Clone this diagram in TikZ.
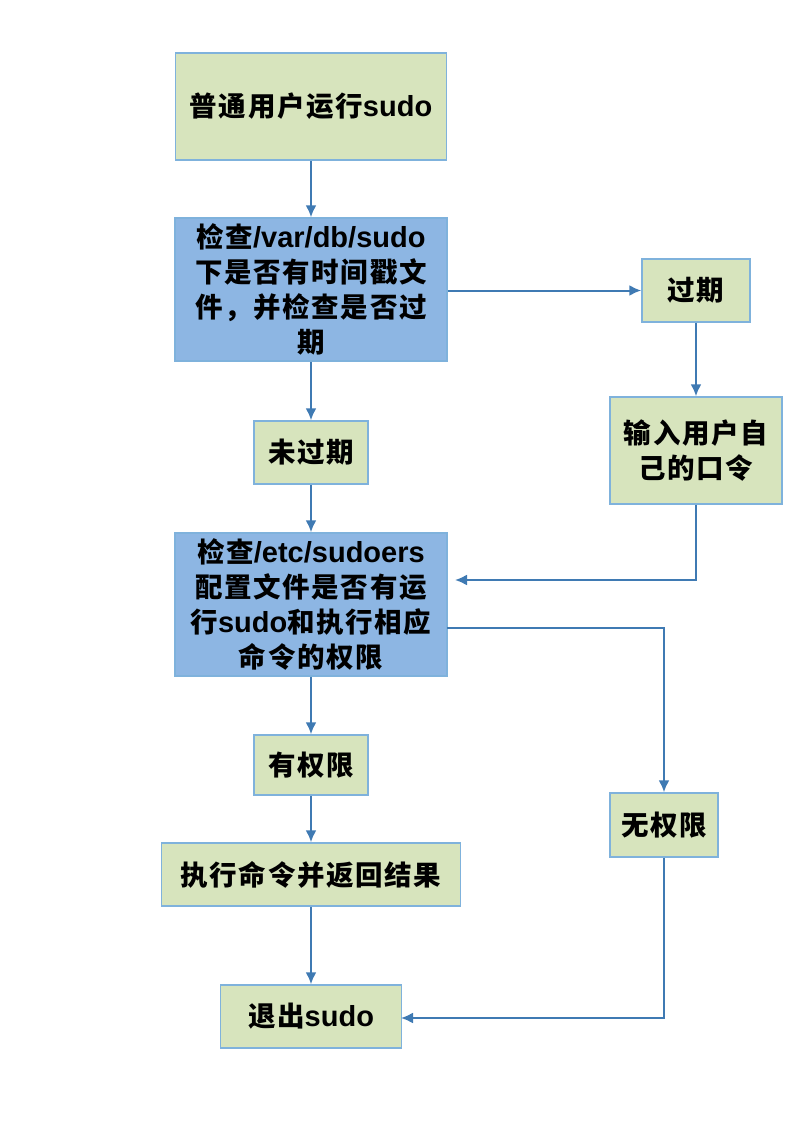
\documentclass[tikz,border=0pt]{standalone}
\usepackage{fontspec}
\setmainfont{Noto Sans CJK SC}[LetterSpace=6]
\newfontfamily\latf{Liberation Sans}
\newcommand\lat[1]{{\fontsize{29}{35}\selectfont\latf #1}}
\usetikzlibrary{arrows.meta}
\definecolor{gfill}{HTML}{D7E4BD}
\definecolor{bfill}{HTML}{8DB6E3}
\definecolor{edge}{HTML}{7FB2DC}
\definecolor{arr}{HTML}{3F7AB3}
\begin{document}
\begin{tikzpicture}[x=1pt,y=-1pt,
  box/.style={draw=edge,line width=1.5pt,inner sep=0pt,align=center,font=\fontsize{27.5}{35}\selectfont\bfseries},
  gbox/.style={box,fill=gfill},
  bbox/.style={box,fill=bfill},
  link/.style={draw=arr,line width=2pt,-{Latex[length=12pt,width=11pt]}}]
\useasboundingbox (0,0) rectangle (804,1146);
\node[gbox,minimum width=271pt,minimum height=107pt] (n1) at (311,106.5) {普通用户运行\lat{sudo}};
\node[bbox,minimum width=272pt,minimum height=143pt] (n2) at (311,289.5) {检查\lat{/var/db/sudo}\\下是否有时间戳文\\件，并检查是否过\\期};
\node[gbox,minimum width=108pt,minimum height=63pt] (n3) at (696,290.5) {过期};
\node[gbox,minimum width=172pt,minimum height=107pt] (n4) at (696,450.5) {输入用户自\\己的口令};
\node[gbox,minimum width=114pt,minimum height=63pt] (n5) at (311,452.5) {未过期};
\node[bbox,minimum width=272pt,minimum height=143pt] (n6) at (311,604.5) {检查\lat{/etc/sudoers}\\配置文件是否有运\\行\lat{sudo}和执行相应\\命令的权限};
\node[gbox,minimum width=114pt,minimum height=60pt] (n7) at (311,765) {有权限};
\node[gbox,minimum width=108pt,minimum height=64pt] (n8) at (664,825) {无权限};
\node[gbox,minimum width=299pt,minimum height=63pt] (n9) at (311,874.5) {执行命令并返回结果};
\node[gbox,minimum width=181pt,minimum height=63pt] (n10) at (311,1016.5) {退出\lat{sudo}};
\coordinate (in6) at (455,580);
\coordinate (out6) at (447,628);
\coordinate (in10) at (401,1018);
\draw[link] (n1) -- (n2);
\draw[link] (n3.west -| n2.east) -- (n3.west);
\draw[link] (n3) -- (n4);
\draw[link] (n4.south) |- (in6);
\draw[link] (n2) -- (n5);
\draw[link] (n5) -- (n6);
\draw[link] (out6) -| (n8.north);
\draw[link] (n6) -- (n7);
\draw[link] (n7) -- (n9);
\draw[link] (n9) -- (n10);
\draw[link] (n8.south) |- (in10);
\end{tikzpicture}
\end{document}
